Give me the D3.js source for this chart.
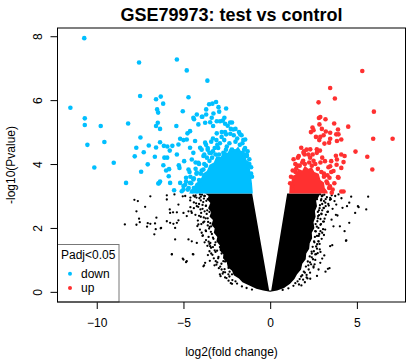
<!DOCTYPE html>
<html><head><meta charset="utf-8">
<script src="https://cdn.jsdelivr.net/npm/d3@7"></script>
<style>body{margin:0;background:#fff}svg{display:block;font-family:"Liberation Sans",Arial,sans-serif}</style>
</head><body>
<script>
const title = "GSE79973: test vs control";
const xLabel = "log2(fold change)";
const yLabel = "-log10(Pvalue)";
const xTicks = [-10, -5, 0, 5];
const yTicks = [0, 2, 4, 6, 8];
const legendTitle = "Padj<0.05";
const legendLabels = ["down", "up"];

// Dense core of non-significant genes (outline, log2FC / -log10P)
const nsCoreX = [-3.75,-3.55,-3.62,-3.45,-3.58,-3.4,-3.5,-3.3,-3.38,-3.2,-3.25,-3.05,-3.1,-2.9,-2.92,-2.7,-2.72,-2.5,-2.45,-2.2,-2.1,-1.8,-1.6,-1.2,-0.8,-0.4,0,
 0.4,0.8,1.15,1.4,1.55,1.78,1.85,2.05,2.08,2.25,2.28,2.42,2.4,2.55,2.5,2.62,2.58,2.7,2.65,2.8,2.85, 0.98,0.06,-0.06,-1.04];
const nsCoreY = [3.08,3.0,2.88,2.78,2.62,2.5,2.36,2.25,2.1,1.98,1.85,1.72,1.58,1.45,1.3,1.18,1.05,0.92,0.78,0.66,0.52,0.42,0.3,0.2,0.1,0.04,0,
 0.04,0.12,0.25,0.4,0.55,0.7,0.88,1.02,1.2,1.35,1.52,1.68,1.85,2.0,2.18,2.35,2.52,2.68,2.85,2.98,3.08, 3.08,0.04,0.04,3.08];
// Scattered non-significant genes (outer spray)
const nsX = [-7.83,-7.63,-6.91,-7.21,-7.71,-7.56,-7.52,-8.38,-7.71,-7.06,-6.91,-6.56,-6.60,-6.31,-6.68,-5.67,-5.04,-4.85,-4.46,-3.81,-3.59,-3.48,-5.96,-5.96,-5.79,-5.60,-5.29,-6.29,-6.64,-7.10,-5.38,-5.04,-5.52,
 -5.96,-5.77,-5.58,-5.48,-5.77,-5.38,-5.29,-5.00,-4.71,-4.81,-4.52,-4.23,-4.14,-4.71,-4.52,-4.23,-5.00,-4.81,-4.43,-3.75,-3.85,-3.46,-5.67,-5.48,
 -4.9,-4.6,-4.3,-4.0,-3.8,-3.6,-4.4,-4.1,-3.9,-3.7,-4.6,-3.5,-3.6,-3.8,-4.0,-3.4,-3.7,-3.9,-3.3,-3.5,-3.2,-3.4,-3.0,-3.1,-2.8,-2.9,-2.6,-2.7,-2.4,-2.2,-3.3,-3.2,-3.15,-3.1,-3.05,-3.0,-2.9,-2.8,-2.6,-2.4,-2.2,
 4.67,5.65,5.10,5.54,4.11,4.56,3.71,4.17,3.79,3.54,4.02,2.56,3.00,3.19,3.42,3.58,4.37,2.65,5.06,4.90,4.43,4.56,4.29,4.39,3.94,3.81,3.88,3.65,3.46,3.33,3.12,2.79,2.31,3.46,3.08,3.17,2.79,2.89,
 3.2,3.0,3.3,2.95,3.1,2.9,3.0,2.8,2.85,2.7,2.6,2.5,2.3,2.1,2.0,1.8,2.4,2.55,2.75,3.35,3.6,3.5,2.7,3.75,3.0,2.6,2.7,2.9];
const nsY = [2.88,2.84,2.99,2.66,2.52,2.29,2.18,2.11,2.10,2.15,2.13,2.32,1.96,1.99,1.80,1.18,1.04,0.93,1.18,0.83,1.15,0.97,3.02,2.89,2.58,2.49,2.73,2.00,2.14,2.04,2.16,2.99,3.05,
 2.21,2.16,2.13,2.00,2.47,2.49,2.24,2.47,2.52,2.37,2.47,2.68,2.11,1.64,1.58,1.53,1.01,0.96,1.17,0.91,0.80,1.43,1.17,1.64,
 3.0,2.95,3.02,2.98,3.0,2.9,2.8,2.75,2.6,2.7,2.65,2.5,2.3,2.2,2.35,2.05,1.9,1.75,1.7,1.5,1.3,1.2,1.05,0.85,0.7,0.55,0.45,0.62,0.35,0.25,2.85,2.6,2.4,2.2,1.95,1.6,1.4,1.2,0.95,0.75,0.55,
 2.98,2.98,2.65,2.58,2.93,2.79,2.84,2.63,2.41,2.26,2.05,0.86,1.04,0.63,0.74,1.46,1.60,1.18,2.68,2.47,2.68,2.16,1.90,1.61,3.05,2.73,2.39,2.05,1.43,0.72,1.14,0.70,0.41,2.94,2.63,1.95,1.58,0.91,
 2.9,2.75,2.5,2.45,2.2,2.1,1.85,1.75,1.5,1.35,1.0,0.8,0.6,0.45,0.3,0.2,1.2,1.55,2.3,2.75,2.6,2.9,2.9,3.0,3.02,1.9,0.5,1.25];
// Non-significant genes along the fuzzy edge of the core
const nsEdgeX = [-4.42,-4.08,-3.93,-3.86,-4.27,-3.71,-4.02,-3.66,-4.31,-3.83,-3.58,-3.97,-3.49,-3.72,-3.36,-3.88,-3.27,-3.55,-3.19,-3.41,-3.06,-3.33,-2.98,-3.14,-2.81,-2.96,-2.63,-2.74,-2.41,-2.52,-2.18,-2.27,-1.91,-1.63,-1.36,-1.05,
 -4.61,-4.17,-3.62,-3.21,-2.86,-3.98,-3.77,-3.63,-3.42,-3.15,-2.7,-2.34,-4.55,-4.05,-3.7,
 -4.25,-4.0,-3.82,-4.15,-3.9,-4.4,-3.78,-4.1,-3.86,-4.2,-3.6,-3.95,-3.55,-3.78,-3.45,-3.3,-3.5,-3.25,-3.05,-2.88,-2.6,-2.35,-2.0,-4.35,-3.68,-4.05,-3.72,-3.45,-3.52,-3.15,
 3.02,3.27,2.93,3.18,2.87,3.09,2.81,3.33,2.96,2.76,3.14,2.72,2.93,2.69,3.05,2.63,2.83,2.58,2.97,2.53,2.71,2.45,2.86,2.39,2.6,2.28,2.47,2.17,2.36,2.06,2.22,1.94,2.1,1.78,1.9,1.58,1.66,1.34,1.05,0.72,
 3.45,3.21,3.1,2.74,2.5,2.15,2.98,2.9,2.78,3.55,
 2.95,3.1,2.85,3.0,2.82,3.05,2.78,2.9,2.7,2.65,2.52,2.4,2.3,2.2,2.0,1.85,1.7,1.45,3.2,3.38,2.88,3.12,2.75,2.62];
const nsEdgeY = [3.01,2.93,3.04,2.81,2.77,2.69,2.58,2.44,2.41,2.33,2.19,2.12,2.03,1.92,1.81,1.77,1.66,1.57,1.47,1.38,1.29,1.16,1.09,0.96,0.88,0.74,0.71,0.57,0.55,0.43,0.37,0.27,0.26,0.17,0.12,0.07,
 2.86,2.23,1.44,0.83,0.49,2.47,3.0,2.55,1.88,1.25,0.96,0.63,2.52,1.95,1.62,
 2.95,2.86,2.92,2.66,2.72,2.62,2.52,2.38,2.17,2.06,2.08,1.85,1.72,1.55,1.53,1.4,1.27,1.05,0.92,0.79,0.61,0.48,0.33,2.98,2.85,3.05,2.3,2.15,1.98,1.55,
 3.01,2.96,2.86,2.79,2.71,2.62,2.55,2.51,2.43,2.37,2.29,2.21,2.12,2.04,1.96,1.89,1.81,1.72,1.66,1.58,1.49,1.41,1.33,1.26,1.17,1.11,1.02,0.95,0.86,0.79,0.7,0.63,0.53,0.48,0.38,0.33,0.23,0.19,0.11,0.06,
 2.88,2.41,1.78,1.21,0.76,0.42,2.99,2.28,1.58,3.02,
 2.9,2.84,2.62,2.55,2.4,2.2,2.0,1.9,1.75,1.42,1.27,1.08,0.92,0.83,0.6,0.52,0.4,0.27,2.68,2.7,3.05,3.04,2.5,2.12];

// Dense core of down-regulated genes (outline)
const downCoreX = [-4.7,-4.45,-4.3,-4.0,-3.9,-3.65,-3.5,-3.25,-3.1,-2.85,-2.7,-2.45,-2.3,-2.05,-1.85,-1.65,-1.45,-1.35,-1.2,-1.12,-1.05,-1.0];
const downCoreY = [3.08,3.22,3.4,3.5,3.7,3.78,3.98,4.05,4.25,4.22,4.4,4.35,4.52,4.42,4.55,4.38,4.32,4.1,3.95,3.7,3.4,3.08];
const downX = [-10.72,-7.56,-5.38,-11.52,-7.50,-6.31,-6.58,-6.17,-6.52,-6.46,-10.69,-10.69,-9.77,-8.19,-6.48,-6.58,-6.35,-5.41,-7.48,-6.35,-10.54,-9.56,-7.72,-7.00,-6.58,-6.13,-5.93,-5.64,-5.79,-7.29,-7.81,-6.65,-6.10,-5.94,-5.38,-10.14,-9.02,-7.06,-6.16,-6.00,-5.83,-7.44,-5.85,-8.31,-6.42,-6.35,-5.54,
 -4.81,-3.62,-4.71,-5.04,-3.52,-3.33,-3.12,-3.69,-2.98,-2.54,-2.94,-3.27,-4.62,-4.77,-5.19,-5.00,-5.29,-4.96,-5.27,-5.23,-6.45,
 -4.23,-3.91,-4.39,-4.14,-3.75,-3.46,-3.08,-2.73,-2.60,-2.27,-2.79,-2.54,-3.08,-4.62,-4.43,-4.85,-4.62,-5.19,
 -4.81,-4.33,-4.04,-3.75,-4.52,-4.14,-3.85,-4.71,-4.23,-3.85,-5.00,-4.43,-4.04,-5.77,-4.23,
 -5.0,-4.7,-4.5,-4.2,-3.9,-4.0,-3.7,-3.5,-3.4,-3.2,-3.1,-2.8,-2.6,-2.3,-2.1,-1.9,-1.6,-1.5,-1.35,-1.2,-1.1,-2.0,-2.45,-1.8,-3.3,-3.6,-3.8,-4.1,-4.3,-4.6,-4.85,-2.2,-1.65,
 -1.73,-1.44,-2.13,-2.31,-2.89,-3.29,-1.34,-1.27,-4.43,-3.94,-3.69,-3.37,-2.64,
 -3.6,-3.3,-3.0,-2.7,-2.5,-2.2,-1.9,-1.6,-1.45, -3.4,-2.9,-2.65,-2.35,-2.0,-1.75,-1.55,
 -5.1,-4.9,-4.75,-4.55,-4.4,-4.25,-4.1,-3.95,-3.8,-3.65,-3.5,-3.35,-3.15,-4.4,-4.65,-4.3,-3.95,-3.7,
 -1.1,-1.2,-1.35,-1.05,-1.3,-1.5,-2.95,-2.55,-2.05,-1.8,-3.05];
const downY = [7.94,7.18,7.27,5.76,6.13,6.11,6.03,5.89,5.71,5.61,5.43,5.22,5.19,5.27,5.29,5.19,5.10,5.19,4.83,4.68,4.60,4.69,4.51,4.58,4.52,4.57,4.55,4.57,4.42,4.37,4.24,4.23,4.20,4.20,4.30,3.89,4.04,3.99,3.96,3.80,3.84,3.76,3.62,3.41,3.40,3.45,3.18,
 6.93,6.61,6.09,5.65,5.87,5.89,5.94,5.71,5.78,5.74,5.64,5.58,5.03,4.96,4.79,4.75,4.61,4.09,3.96,3.88,3.39,
 5.55,5.48,5.40,5.24,5.29,5.31,5.34,5.36,5.26,5.10,5.00,4.93,4.96,4.51,4.35,3.57,3.41,3.41,
 4.77,4.72,4.51,4.67,4.14,4.04,4.25,3.83,3.73,3.83,3.31,3.52,3.36,3.41,3.15,
 3.2,3.25,3.15,3.3,3.5,3.7,3.95,4.1,4.35,4.5,4.75,4.85,5.0,4.95,4.9,4.8,4.65,4.45,4.3,4.0,3.7,5.1,5.2,5.0,4.8,4.5,4.3,4.0,3.85,3.6,3.45,5.3,4.9,
 4.93,4.77,5.08,5.30,5.34,5.19,4.25,3.93,5.45,5.48,5.55,5.45,5.45,
 4.45,4.4,4.5,4.35,4.55,4.45,4.4,4.35,4.5, 4.7,4.65,4.75,4.65,4.7,4.6,4.75,
 3.15,3.35,3.2,3.4,3.55,3.7,3.5,3.8,4.0,4.2,4.35,4.2,4.3,3.25,3.75,4.05,4.45,4.6,
 3.9,4.15,4.05,3.6,4.4,4.3,4.3,4.45,4.4,4.35,4.6];

// Dense core of up-regulated genes (outline)
const upCoreX = [1.1,1.12,1.22,1.3,1.5,1.62,1.85,2.0,2.2,2.4,2.55,2.8,2.9,3.1,3.15,3.3,3.32];
const upCoreY = [3.08,3.3,3.45,3.62,3.7,3.85,3.8,3.95,3.85,3.9,3.75,3.7,3.5,3.42,3.25,3.15,3.08];
const upX = [5.31,3.46,3.73,2.79,5.98,2.81,2.89,3.19,3.69,2.44,2.84,2.98,3.21,3.91,4.50,2.35,2.64,2.89,3.08,3.46,3.81,4.10,3.85,2.83,3.13,3.40,5.94,7.06,1.79,2.31,2.69,2.87,4.92,4.10,4.29,3.79,5.60,1.98,5.89,3.91,4.10,3.83,3.36,3.16,3.52,3.42,4.10,4.23,1.46,1.34,
 2.50,3.46,3.94,1.92,2.69,3.85,4.23,3.52,3.94,3.65,3.46,
 1.25,1.55,1.9,2.3,2.5,2.9,3.1,3.3,3.6,3.7,3.4,1.6,2.1,
 1.2,1.3,1.5,1.45,1.7,1.85,2.0,2.25,2.4,2.6,2.75,2.95,3.1,3.25,3.45,3.55,3.3,2.2,1.65,2.45,3.0,1.95,1.35,1.15,1.28];
const upY = [6.91,6.38,6.05,5.93,5.64,5.44,5.47,5.40,5.27,5.14,5.24,5.10,5.02,5.08,5.17,5.00,4.85,4.85,4.90,4.79,4.93,4.77,4.72,4.75,4.64,4.67,4.79,4.79,4.51,4.46,4.46,4.42,4.39,4.30,4.25,4.26,4.23,4.30,3.83,3.59,3.88,3.98,3.90,4.09,3.75,3.57,3.14,3.14,3.75,3.57,
 5.06,4.98,4.93,4.35,4.35,4.14,4.06,4.09,3.57,3.78,3.93,
 3.35,3.95,4.1,4.2,4.1,4.05,3.7,3.4,3.2,3.4,3.25,4.2,4.45,
 3.6,3.8,3.85,4.0,3.95,4.05,4.0,4.05,3.95,4.0,3.85,3.75,3.6,3.45,3.3,3.1,3.65,4.3,4.25,4.3,4.2,4.4,4.15,3.4,3.2];

const W = 420, H = 360;
const L = 57.5, R = 405.5, T = 28, B = 302;
const allX = nsX.concat(downX, upX), allY = nsY.concat(downY, upY, [0]);
const xmin = d3.min(allX), xmax = d3.max(allX), ymin = d3.min(allY), ymax = d3.max(allY);
const px = (xmax - xmin) * 0.04, py = (ymax - ymin) * 0.04;
const x = d3.scaleLinear().domain([xmin - px, xmax + px]).range([L, R]);
const y = d3.scaleLinear().domain([ymin - py, ymax + py]).range([B, T]);

const svg = d3.select("body").append("svg").attr("width", W).attr("height", H);
const plot = svg.append("g");
const line = d3.line().x(d => x(d[0])).y(d => y(d[1])).curve(d3.curveLinearClosed);

const blueC = "#00bfff", redC = "#ff3030";
plot.append("path").datum(d3.zip(nsCoreX, nsCoreY)).attr("d", line).attr("fill", "#000");
plot.selectAll(".ns").data(d3.zip(nsX.concat(nsEdgeX), nsY.concat(nsEdgeY))).join("circle")
  .attr("cx", d => x(d[0])).attr("cy", d => y(d[1])).attr("r", 1.15).attr("fill", "#000");
plot.append("path").datum(d3.zip(downCoreX, downCoreY)).attr("d", line).attr("fill", blueC);
plot.selectAll(".dn").data(d3.zip(downX, downY)).join("circle")
  .attr("cx", d => x(d[0])).attr("cy", d => y(d[1])).attr("r", 2.3).attr("fill", blueC);
plot.append("path").datum(d3.zip(upCoreX, upCoreY)).attr("d", line).attr("fill", redC);
plot.selectAll(".up").data(d3.zip(upX, upY)).join("circle")
  .attr("cx", d => x(d[0])).attr("cy", d => y(d[1])).attr("r", 2.3).attr("fill", redC);

// axes
const xa = svg.append("g").attr("transform", `translate(0,${B})`)
  .call(d3.axisBottom(x).tickValues(xTicks).tickSize(7).tickPadding(9).tickFormat(d3.format("d")));
const ya = svg.append("g").attr("transform", `translate(${L},0)`)
  .call(d3.axisLeft(y).tickValues(yTicks).tickSize(7).tickPadding(0).tickFormat(d3.format("d")));
[xa, ya].forEach(a => { a.select(".domain").remove(); a.selectAll("line").attr("stroke", "#000");
  a.selectAll("text").attr("font-size", 12).attr("fill", "#000").attr("font-family", "Liberation Sans, Arial, sans-serif"); });
ya.selectAll(".tick text").attr("x", null).attr("dy", null).attr("text-anchor", "middle")
  .attr("transform", "translate(-16,0) rotate(-90)").attr("dy", "0");

// legend
const lg = svg.append("g");
lg.append("rect").attr("x", L).attr("y", 244.5).attr("width", 61.5).attr("height", B - 244.5)
  .attr("fill", "#fff").attr("stroke", "#777");
lg.append("text").attr("x", 61).attr("y", 259).attr("font-size", 12).text(legendTitle);
const lc = [blueC, redC], ly = [273.7, 288];
legendLabels.forEach((t, i) => {
  lg.append("circle").attr("cx", 70).attr("cy", ly[i]).attr("r", 2).attr("fill", lc[i]);
  lg.append("text").attr("x", 81).attr("y", ly[i] + 4.3).attr("font-size", 12).text(t);
});
svg.append("rect").attr("x", L).attr("y", T).attr("width", R - L).attr("height", B - T)
  .attr("fill", "none").attr("stroke", "#000");

// titles
svg.append("text").attr("x", (L + R) / 2).attr("y", 21).attr("text-anchor", "middle")
  .attr("font-size", 18).attr("font-weight", "bold").text(title);
svg.append("text").attr("x", (L + R) / 2).attr("y", 356).attr("text-anchor", "middle")
  .attr("font-size", 12).text(xLabel);
svg.append("text").attr("transform", `translate(15,${(T + B) / 2}) rotate(-90)`).attr("text-anchor", "middle")
  .attr("font-size", 12).text(yLabel);
</script>
</body></html>
